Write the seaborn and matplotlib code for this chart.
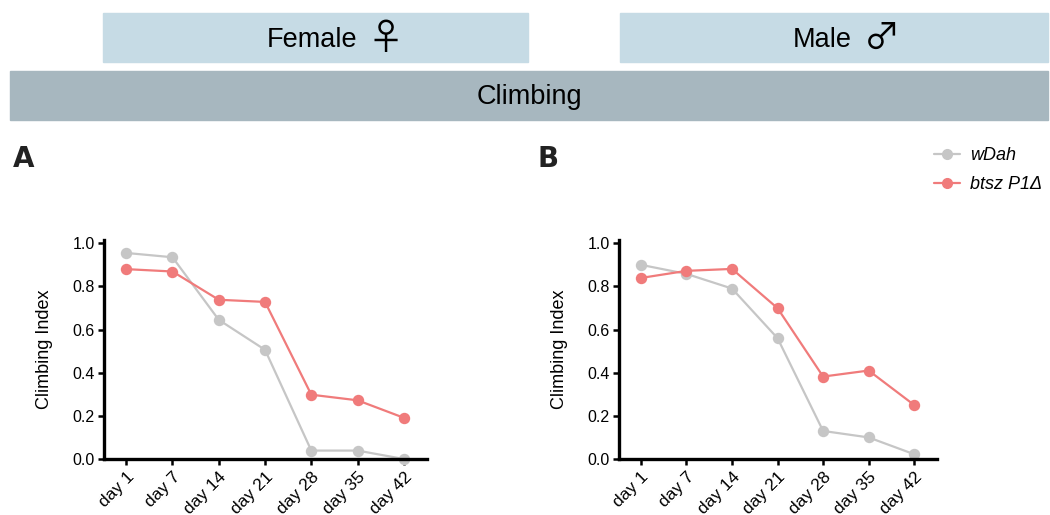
import seaborn as sns
import matplotlib.pyplot as plt
import pandas as pd
from matplotlib.patches import Rectangle

# data
days = ['day 1', 'day 7', 'day 14', 'day 21', 'day 28', 'day 35', 'day 42']
genotypes = ['wDah', 'btsz P1Δ']
female_wdah = [0.955, 0.935, 0.645, 0.506, 0.039, 0.039, 0.0]
female_btsz = [0.88, 0.869, 0.738, 0.728, 0.298, 0.272, 0.191]
male_wdah = [0.90, 0.858, 0.79, 0.56, 0.13, 0.10, 0.022]
male_btsz = [0.839, 0.872, 0.881, 0.699, 0.382, 0.41, 0.25]

colors = {'wDah': '#c6c6c6', 'btsz P1Δ': '#f07b7b'}


def long_df(wdah, btsz):
    return pd.DataFrame({
        'day': days * 2,
        'Climbing Index': wdah + btsz,
        'genotype': [genotypes[0]] * len(days) + [genotypes[1]] * len(days),
    })


sns.set_style('ticks')
plt.rcParams['font.family'] = ['Liberation Sans', 'DejaVu Sans']
for k in ['text.color', 'axes.labelcolor', 'xtick.color', 'ytick.color', 'axes.edgecolor']:
    plt.rcParams[k] = 'black'

W, H = 1050, 515
fig = plt.figure(figsize=(W / 100, H / 100), dpi=100)


# header boxes
def fig_box(x0, y0, x1, y1, color):
    fig.patches.append(Rectangle((x0 / W, 1 - y1 / H), (x1 - x0) / W, (y1 - y0) / H,
                                 transform=fig.transFigure, color=color, zorder=0))


sym_font = ['Noto Sans CJK JP', 'DejaVu Sans']
fig_box(103, 13, 528, 62, '#c6dbe5')
fig_box(620, 13, 1048, 62, '#c6dbe5')
fig_box(10, 71, 1048, 120, '#a7b7bf')
fig.text(357 / W, 1 - 40 / H, 'Female', ha='right', va='center', fontsize=19.5)
fig.text(368 / W, 1 - 39 / H, '♀', ha='left', va='center', fontsize=26, family=sym_font)
fig.text(852 / W, 1 - 40 / H, 'Male', ha='right', va='center', fontsize=19.5)
fig.text(864 / W, 1 - 39 / H, '♂', ha='left', va='center', fontsize=26, family=sym_font)
fig.text(529 / W, 1 - 97 / H, 'Climbing', ha='center', va='center', fontsize=19.5)

axA = fig.add_axes([104 / W, 1 - 459 / H, (427 - 104) / W, (459 - 240) / H])
axB = fig.add_axes([619 / W, 1 - 459 / H, (937 - 619) / W, (459 - 240) / H])

for ax, df, letter, lx in [(axA, long_df(female_wdah, female_btsz), 'A', 13),
                           (axB, long_df(male_wdah, male_btsz), 'B', 537)]:
    sns.pointplot(data=df, x='day', y='Climbing Index', hue='genotype',
                  palette=colors, markers='o', linestyles='-', ax=ax,
                  markersize=7, linewidth=1.6, legend=False)
    for ln in ax.lines:
        ln.set_clip_on(False)
    ax.set_ylim(0, 1.015)
    ax.set_yticks([0, 0.2, 0.4, 0.6, 0.8, 1.0])
    ax.set_yticklabels(['0.0', '0.2', '0.4', '0.6', '0.8', '1.0'])
    ax.set_xlim(-0.48, 6.5)
    ax.set_xlabel('')
    ax.set_ylabel('Climbing Index', fontsize=13, labelpad=14)
    ax.tick_params(axis='y', labelsize=11.5, width=1.8, length=4.5, pad=2)
    ax.tick_params(axis='x', labelsize=12.5, width=1.8, length=4.5, pad=3)
    for lab in ax.get_xticklabels():
        lab.set_rotation(45)
        lab.set_ha('right')
        lab.set_rotation_mode('anchor')
    for s in ['left', 'bottom']:
        ax.spines[s].set_linewidth(2.4)
    sns.despine(ax=ax)
    fig.text(lx / W, 1 - 159 / H, letter, fontsize=20, fontweight='heavy',
             family='DejaVu Sans', va='center', color='#222222')

handles = [plt.Line2D([], [], color=colors[g], marker='o', markersize=7, linewidth=1.6)
           for g in genotypes]
fig.legend(handles, genotypes, loc='upper left', bbox_to_anchor=(918 / W, 1 - 131 / H),
           frameon=False, prop={'style': 'italic', 'size': 13},
           handlelength=1.4, handletextpad=0.6, labelspacing=0.65)

fig.savefig('out.png', dpi=100)
